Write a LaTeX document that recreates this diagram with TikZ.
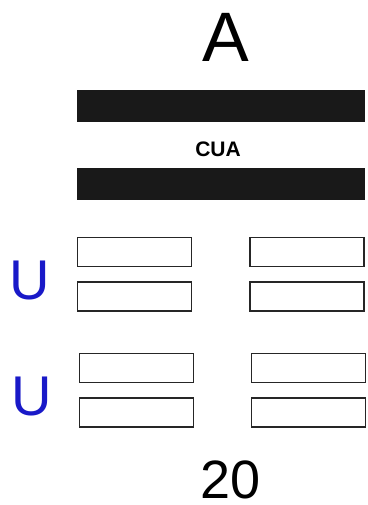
\documentclass[tikz,border=0pt]{standalone}
\usepackage{fontspec}
\setmainfont{Liberation Sans}
\usepackage{tikz}
\definecolor{ublue}{RGB}{25,25,200}
\tikzset{
  bar/.style={fill=black!90, draw=black!90, minimum width=287pt, minimum height=31pt, inner sep=0pt},
  slot/.style={draw=black!85, line width=1.3pt, minimum width=114pt, minimum height=29pt, inner sep=0pt},
  ulabel/.style={text=ublue, inner sep=0pt, font=\fontsize{56}{56}\selectfont},
}
\begin{document}
\begin{tikzpicture}[x=1pt,y=-1pt]
        \useasboundingbox (0,0) rectangle (367,505);
        \node[inner sep=0pt] (title) at (226,37.5) {\fontsize{70}{70}\selectfont A};

        \node[bar] (topbar) at (221,106) {};
        \node[inner sep=0pt] (cua) at (218,149.5) {\fontsize{21}{21}\selectfont\bfseries CUA};
        \node[bar] (botbar) at (221,184) {};

        \node[ulabel] (u1) at (30,281) {U};
        \node[slot] (s11) at (134.5,252) {};
        \node[slot] (s12) at (307,252) {};
        \node[slot] (s21) at (134.5,296.5) {};
        \node[slot] (s22) at (307,296.5) {};

        \node[ulabel] (u2) at (32,397) {U};
        \node[slot] (s31) at (136.5,368) {};
        \node[slot] (s32) at (308.5,368) {};
        \node[slot] (s41) at (136.5,412.5) {};
        \node[slot] (s42) at (308.5,412.5) {};

        \node[inner sep=0pt] (num) at (230.5,480) {\fontsize{54}{54}\selectfont 20};
\end{tikzpicture}
\end{document}
